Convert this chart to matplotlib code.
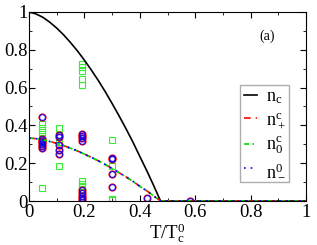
import matplotlib
matplotlib.use("Agg")
import matplotlib.pyplot as plt
from matplotlib.ticker import MultipleLocator

plt.rcParams['font.family'] = ['Liberation Serif', 'DejaVu Serif']
plt.rcParams['mathtext.fontset'] = 'custom'
plt.rcParams['mathtext.rm'] = 'Liberation Serif'
plt.rcParams['mathtext.it'] = 'Liberation Serif'

# Curves
T_curve = [0.0, 0.025, 0.05, 0.075, 0.1, 0.125, 0.15, 0.175, 0.2, 0.225, 0.25, 0.275,
           0.3, 0.325, 0.35, 0.375, 0.4, 0.425, 0.45, 0.46, 0.475,
           0.5, 0.6, 0.7, 0.8, 0.9, 1.0]
n_c = [1.0, 0.990, 0.972, 0.946, 0.915, 0.879, 0.838, 0.794, 0.745, 0.693, 0.638, 0.579,
       0.516, 0.451, 0.383, 0.312, 0.236, 0.161, 0.082, 0.049, 0.0,
       0.0, 0.0, 0.0, 0.0, 0.0, 0.0]
n_third = [0.333, 0.330, 0.324, 0.315, 0.305, 0.293, 0.279, 0.265, 0.248, 0.231, 0.213, 0.193,
           0.172, 0.150, 0.128, 0.104, 0.078, 0.054, 0.027, 0.016, 0.0,
           0.0, 0.0, 0.0, 0.0, 0.0, 0.0]

# Scatter: circles (n+ red, n- blue) and squares (n0 green)
T_circ = [0.047, 0.047, 0.047, 0.047, 0.047, 0.047, 0.047,
          0.109, 0.109, 0.109, 0.109, 0.109,
          0.19, 0.19, 0.19, 0.19, 0.19, 0.19, 0.19, 0.19, 0.19,
          0.298, 0.298, 0.298, 0.298,
          0.427, 0.58]
n_circ = [0.447, 0.33, 0.32, 0.31, 0.30, 0.29, 0.28,
          0.347, 0.34, 0.298, 0.271, 0.248,
          0.355, 0.346, 0.334, 0.319, 0.057, 0.044, 0.027, 0.014, 0.004,
          0.23, 0.222, 0.142, 0.074,
          0.018, 0.0]
T_sq = [0.047, 0.047, 0.047, 0.047, 0.047, 0.047, 0.047,
        0.109, 0.109, 0.109, 0.109,
        0.19, 0.19, 0.19, 0.19, 0.19, 0.19, 0.19, 0.19, 0.19,
        0.298, 0.298, 0.298, 0.298]
n_sq = [0.405, 0.385, 0.365, 0.345, 0.325, 0.305, 0.069,
        0.387, 0.351, 0.313, 0.183,
        0.723, 0.709, 0.686, 0.644, 0.612, 0.106, 0.092, 0.080, 0.062,
        0.323, 0.186, 0.012, 0.006]

tick_vals = [0, 0.2, 0.4, 0.6, 0.8, 1]
tick_labels = ['0', '0.2', '0.4', '0.6', '0.8', '1']
labels = [r'$\mathrm{n_c}$', r'$\mathrm{n^c_+}$', r'$\mathrm{n^c_0}$', r'$\mathrm{n^0_-}$']

fig = plt.figure(figsize=(3.17, 2.45), dpi=100)
ax = fig.add_axes([29/317, 1 - 201/245, 277/317, 189/245])

ax.plot(T_sq, n_sq, linestyle='none', marker='s', markersize=4, markerfacecolor='none',
        markeredgecolor='#33ee33', markeredgewidth=0.8)
ax.plot(T_circ, n_circ, linestyle='none', marker='o', markersize=5, markerfacecolor='none',
        markeredgecolor='red', markeredgewidth=0.9)
ax.plot(T_circ, n_circ, linestyle='none', marker='o', markersize=4.2, markerfacecolor='none',
        markeredgecolor='blue', markeredgewidth=0.9, alpha=0.8)

ax.plot(T_curve, n_c, color='black', lw=1.2, label=labels[0])
ax.plot(T_curve, n_third, color='red', lw=1.2, linestyle=(0, (4, 3)), label=labels[1])
ax.plot(T_curve, n_third, color='#00dd00', lw=1.2, linestyle=(0, (3, 2, 1, 2)), label=labels[2])
ax.plot(T_curve, n_third, color='blue', lw=1.2, linestyle=(0, (1, 3)), label=labels[3])

ax.set_xlim(0, 1)
ax.set_ylim(0, 1)
ax.set_xticks(tick_vals)
ax.set_yticks(tick_vals)
ax.set_xticklabels(tick_labels)
ax.set_yticklabels(tick_labels)
ax.xaxis.set_minor_locator(MultipleLocator(0.1))
ax.yaxis.set_minor_locator(MultipleLocator(0.1))
ax.tick_params(which='both', direction='in', top=True, right=True, labelsize=13.5)
ax.tick_params(axis='x', pad=2)
ax.tick_params(axis='y', pad=1)
ax.tick_params(which='major', length=4)
ax.tick_params(which='minor', length=2)

ax.set_xlabel(r'T/T$^\mathrm{0}_\mathrm{c}$', fontsize=13.5, labelpad=0)
ax.text(0.86, 0.87, '(a)', transform=ax.transAxes, fontsize=10, ha='center', va='center')

leg = ax.legend(loc='upper left', bbox_to_anchor=(0.763, 0.615), fontsize=13, frameon=True,
                fancybox=False, edgecolor='#999999', handlelength=0.7, handletextpad=0.5,
                labelspacing=0.3, borderpad=0.2, borderaxespad=0)
leg.get_frame().set_linewidth(1.0)

fig.savefig('out.png', dpi=100)
